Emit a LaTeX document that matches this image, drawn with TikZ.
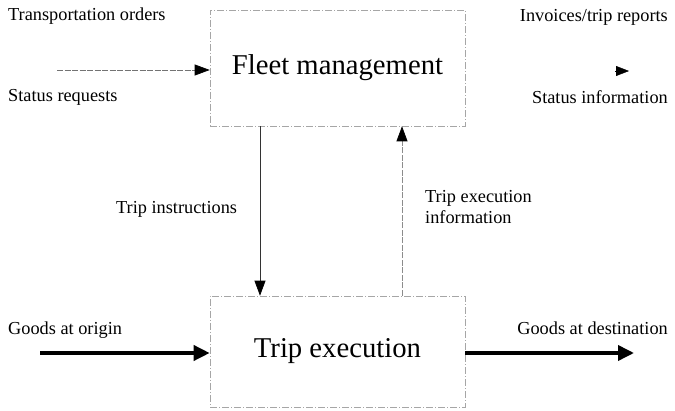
\documentclass[tikz,border=0pt]{standalone}
\usepackage{fontspec}
\setmainfont{Liberation Serif}
\usetikzlibrary{arrows.meta}
\begin{document}
\begin{tikzpicture}[x=1pt,y=-1pt,
  block/.style={draw=black!35, line width=0.6pt, dash pattern=on 7pt off 2pt on 1pt off 2pt,
    minimum width=255pt, inner sep=0pt, font=\fontsize{28.7}{32}\selectfont},
  lbl/.style={font=\fontsize{18.3}{21}\selectfont, inner sep=0pt},
  tip/.style={-{Triangle[length=15pt,width=11pt,color=black]}},
  flow/.style={tip, line width=0.7pt},
  thick flow/.style={-{Triangle[length=16pt,width=15pt]}, line width=3.6pt},
  faint flow/.style={tip, draw=black!45, line width=0.7pt, dash pattern=on 6pt off 1.5pt}]
\useasboundingbox (0,0) rectangle (675,411);

% the two processes
\node[block, minimum height=116pt] (fm) at (337.5,68) {Fleet management};
\node[block, minimum height=111pt] (tx) at (337.5,351.5) {Trip execution};

% inputs and outputs of fleet management
\node[lbl, anchor=west] (to) at (8,16) {Transportation orders};
\node[lbl, anchor=west] (sr) at (8,97) {Status requests};
\coordinate (inA) at (57,70);
\draw[faint flow, draw=black!55] (inA) -- (inA -| fm.west);

\node[lbl, anchor=east] (ir) at (668,17) {Invoices/trip reports};
\node[lbl, anchor=east] (si) at (668,97) {Status information};
\coordinate (outA) at (615,71);
\coordinate (outB) at (629,71);
\draw[-{Triangle[length=13pt,width=10pt]}, line width=0.4pt] (outA) -- (outB);

% flows between the processes
\coordinate (dx) at (260,0);
\coordinate (ux) at (402,0);
\draw[flow, draw=black!80] (fm.south -| dx) -- (tx.north -| dx);
\draw[faint flow] (tx.north -| ux) -- (fm.south -| ux);
\node[lbl, anchor=west] (ti) at (116,209) {Trip instructions};
\node[lbl, anchor=west, align=left, font=\fontsize{18.3}{21.5}\selectfont] (te) at (425,207) {Trip execution\\information};

% physical goods flow
\node[lbl, anchor=west] (go) at (8,330) {Goods at origin};
\coordinate (gIn) at (40,353);
\draw[thick flow] (gIn) -- (gIn -| tx.west);
\node[lbl, anchor=east] (gd) at (668,328) {Goods at destination};
\coordinate (gOut) at (634,353);
\draw[thick flow] (gOut -| tx.east) -- (gOut);
\end{tikzpicture}
\end{document}
